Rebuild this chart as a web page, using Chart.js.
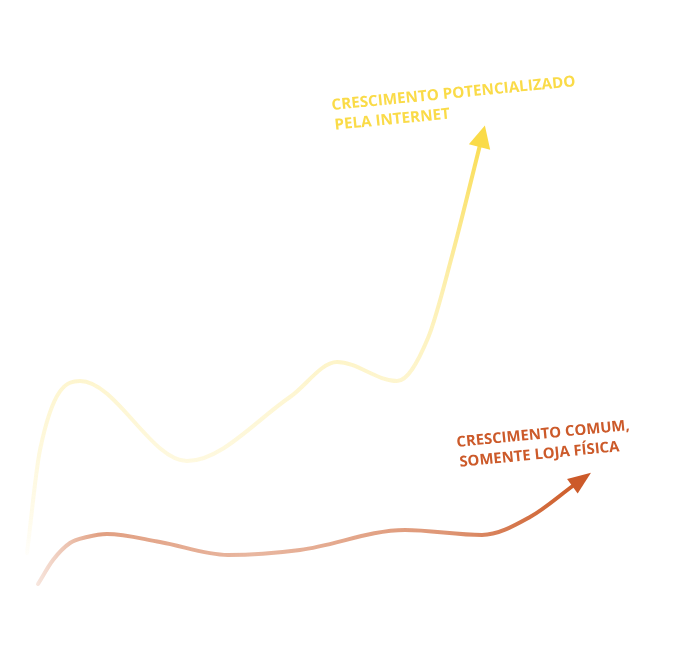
<!DOCTYPE html>
<html>
<head>
<meta charset="utf-8">
<script src="https://cdn.jsdelivr.net/npm/chart.js@4/dist/chart.umd.min.js"></script>
<style>
  body { margin: 0; background: #fff; }
  #wrap { width: 693px; height: 646px; }
</style>
</head>
<body>
<div id="wrap"><canvas id="myChart"></canvas></div>
<script>
// curve points (x across, y = height from bottom)
const onlineX = [27, 40, 80, 187, 290, 337, 397, 428, 452, 480];
const onlineY = [93, 196, 265, 185, 249, 284, 265, 308, 390, 501];
const storeX = [38, 53, 70, 87, 107, 160, 228, 300, 405, 482, 530, 574];
const storeY = [62, 86, 103, 109, 112, 104, 91, 96, 116, 111, 129, 161];

const onlineLabel = ['CRESCIMENTO POTENCIALIZADO', 'PELA INTERNET'];
const storeLabel = ['CRESCIMENTO COMUM,', 'SOMENTE LOJA FÍSICA'];

const toPoints = (xs, ys) => xs.map((x, i) => ({ x: x, y: ys[i] }));

function yellowGrad(context) {
  const area = context.chart.chartArea;
  if (!area) return '#FADB48';
  const g = context.chart.ctx.createLinearGradient(0, area.bottom - 80, 0, area.top + 120);
  g.addColorStop(0, 'rgba(250,219,72,0)');
  g.addColorStop(0.12, 'rgba(250,219,72,0.12)');
  g.addColorStop(0.4, 'rgba(250,219,72,0.25)');
  g.addColorStop(0.6, 'rgba(250,219,72,0.4)');
  g.addColorStop(1, 'rgba(250,219,72,1)');
  return g;
}

function orangeGrad(context) {
  const area = context.chart.chartArea;
  if (!area) return '#C8532A';
  const g = context.chart.ctx.createLinearGradient(35, 0, 580, 0);
  g.addColorStop(0, 'rgba(205,95,45,0.15)');
  g.addColorStop(0.12, 'rgba(205,95,45,0.6)');
  g.addColorStop(0.4, 'rgba(205,95,45,0.45)');
  g.addColorStop(0.75, 'rgba(205,95,45,0.65)');
  g.addColorStop(1, 'rgba(205,90,38,1)');
  return g;
}

// arrowheads and rotated captions, anchored to the last point of each curve
const arrowLabels = {
  id: 'arrowLabels',
  afterDatasetsDraw(chart) {
    const ctx = chart.ctx;
    const items = [
      { ds: 0, color: '#FADB48', len: 20, half: 11, lines: onlineLabel, dx: -148, dy: -35, width: 245 },
      { ds: 1, color: '#CC5A2A', len: 21, half: 9, lines: storeLabel, dx: -117, dy: -38, width: 174 }
    ];
    items.forEach(it => {
      const pts = chart.getDatasetMeta(it.ds).data;
      const p = pts[pts.length - 1];
      const q = pts[pts.length - 2];
      const a = Math.atan2(p.y - q.y, p.x - q.x);
      ctx.save();
      ctx.translate(p.x, p.y);
      ctx.rotate(a);
      ctx.beginPath();
      ctx.moveTo(-2, -it.half);
      ctx.lineTo(it.len, 0);
      ctx.lineTo(-2, it.half);
      ctx.closePath();
      ctx.fillStyle = it.color;
      ctx.fill();
      ctx.restore();

      ctx.save();
      ctx.font = 'bold 14px "Open Sans"';
      const size = 14 * it.width / ctx.measureText(it.lines[0]).width;
      ctx.font = 'bold ' + size.toFixed(2) + 'px "Open Sans"';
      ctx.fillStyle = it.color;
      ctx.textBaseline = 'alphabetic';
      ctx.translate(p.x + it.dx, p.y + it.dy);
      ctx.rotate(-5.6 * Math.PI / 180);
      ctx.fillText(it.lines[0], 0, 0);
      ctx.fillText(it.lines[1], 1, 20);
      ctx.restore();
    });
  }
};

const ctx = document.getElementById('myChart');
new Chart(ctx, {
  type: 'scatter',
  data: {
    datasets: [
      {
        data: toPoints(onlineX, onlineY),
        showLine: true,
        borderColor: yellowGrad,
        borderWidth: 4,
        cubicInterpolationMode: 'monotone',
        pointRadius: 0,
        borderCapStyle: 'round'
      },
      {
        data: toPoints(storeX, storeY),
        showLine: true,
        borderColor: orangeGrad,
        borderWidth: 4,
        cubicInterpolationMode: 'monotone',
        pointRadius: 0,
        borderCapStyle: 'round'
      }
    ]
  },
  options: {
    responsive: true,
    maintainAspectRatio: false,
    animation: false,
    layout: { padding: 0 },
    plugins: { legend: { display: false }, tooltip: { enabled: false } },
    scales: {
      x: { type: 'linear', min: 0, max: 693, display: false },
      y: { type: 'linear', min: 0, max: 646, display: false }
    }
  },
  plugins: [arrowLabels]
});
</script>
</body>
</html>
